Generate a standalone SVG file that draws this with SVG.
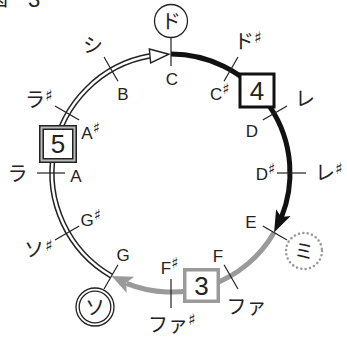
<svg xmlns="http://www.w3.org/2000/svg" width="347" height="337" viewBox="0 0 347 337">
  <style>
    text { font-family: "Liberation Sans", "Noto Sans CJK JP", "DejaVu Sans", sans-serif; fill: #222; }
    .note { font-size: 17px; }
    .kana { font-size: 20px; font-family: "Noto Sans CJK JP", "DejaVu Sans", sans-serif; }
    .sh { font-size: 15px; font-family: "DejaVu Sans", sans-serif; }
    .ksh { font-size: 16px; font-family: "DejaVu Sans", sans-serif; }
    .num { font-size: 26px; text-anchor: middle; }
    .mid { text-anchor: middle; }
    .tick { stroke: #222; stroke-width: 1.2; fill: none; }
  </style>

  <!-- title -->
  <g id="title">
    <text class="kana" x="-12" y="6" font-size="22">図</text>
    <text x="28" y="7" font-size="22">3</text>
  </g>

  <!-- arcs of the pitch circle (centre 171,173, r 119) -->
  <g id="connectors">
    <!-- G to C: double line -->
    <path d="M 111.5 276.06 A 119 119 0 0 1 150.34 55.81" fill="none" stroke="#222" stroke-width="5.5"/>
    <path d="M 111.5 276.06 A 119 119 0 0 1 150.34 55.81" fill="none" stroke="#fff" stroke-width="2.5"/>
    <polygon points="0,0 -19,-7 -19,7" transform="translate(168.9 54.2) rotate(-5.5)" fill="#fff" stroke="#222" stroke-width="1.4" stroke-linejoin="miter"/>

    <!-- C to E: thick black -->
    <path d="M 171 54 A 119 119 0 0 1 281.33 217.58" fill="none" stroke="#111" stroke-width="5"/>
    <polygon points="0,0 -22,-8 -17,0 -22,8" transform="translate(274.06 232.5) rotate(115)" fill="#111"/>

    <!-- E to G: thick grey -->
    <path d="M 274.06 232.5 A 119 119 0 0 1 126.42 283.33" fill="none" stroke="#9a9a9a" stroke-width="5"/>
    <polygon points="0,0 -21,-9 -16,0 -21,9" transform="translate(111.5 276.06) rotate(205)" fill="#9a9a9a"/>

    <!-- ticks -->
    <line class="tick" x1="171" y1="66" x2="171" y2="37.5"/>
    <line class="tick" x1="224" y1="81.2" x2="238" y2="57"/>
    <line class="tick" x1="262.8" y1="120" x2="287" y2="106"/>
    <line class="tick" x1="277" y1="173" x2="306" y2="173"/>
    <line class="tick" x1="262.8" y1="226" x2="287" y2="240"/>
    <line class="tick" x1="224" y1="264.8" x2="238" y2="289"/>
    <line class="tick" x1="171" y1="279" x2="171" y2="308"/>
    <line class="tick" x1="118" y1="264.8" x2="104" y2="289"/>
    <line class="tick" x1="79.2" y1="226" x2="55" y2="240"/>
    <line class="tick" x1="65" y1="173" x2="37" y2="173"/>
    <line class="tick" x1="79.2" y1="120" x2="55" y2="106"/>
    <line class="tick" x1="118" y1="81.2" x2="104" y2="57"/>
  </g>

  <!-- circled syllables -->
  <g id="node-do">
    <circle cx="171" cy="21" r="16.5" fill="#fff" stroke="#222" stroke-width="1.3"/>
    <text class="kana mid" x="171" y="28.6">ド</text>
  </g>
  <g id="node-mi">
    <circle cx="304" cy="251" r="18" fill="#fff" stroke="#999" stroke-width="2.6" stroke-dasharray="0 4.4" stroke-linecap="round"/>
    <text class="kana mid" x="304" y="258.6">ミ</text>
  </g>
  <g id="node-so">
    <circle cx="95" cy="307" r="19" fill="#fff" stroke="#222" stroke-width="1.3"/>
    <circle cx="95" cy="307" r="15.8" fill="none" stroke="#222" stroke-width="1.3"/>
    <text class="kana mid" x="95" y="314.6">ソ</text>
  </g>

  <!-- numbered boxes -->
  <g id="box-4">
    <rect x="240" y="74" width="34" height="33" fill="#fff" stroke="#111" stroke-width="3"/>
    <text class="num" x="257" y="100.3">4</text>
  </g>
  <g id="box-5">
    <rect x="41.5" y="127.5" width="33" height="33" fill="#fff" stroke="#222" stroke-width="5"/>
    <rect x="41.5" y="127.5" width="33" height="33" fill="none" stroke="#bbb" stroke-width="2"/>
    <text class="num" x="58" y="153.3">5</text>
  </g>
  <g id="box-3">
    <rect x="184.75" y="269.75" width="33.5" height="31.5" fill="#fff" stroke="#9a9a9a" stroke-width="3.5"/>
    <text class="num" x="201.5" y="294.8">3</text>
  </g>

  <!-- letter names inside the circle -->
  <g id="letters">
    <text class="note mid" x="172" y="85.2">C</text>
    <text class="note" x="209.9" y="100.2">C<tspan class="sh" dx="0" dy="-6">♯</tspan></text>
    <text class="note mid" x="252" y="137.2">D</text>
    <text class="note" x="255.8" y="180.2">D<tspan class="sh" dx="0" dy="-6">♯</tspan></text>
    <text class="note mid" x="251" y="228.2">E</text>
    <text class="note mid" x="218" y="262.2">F</text>
    <text class="note" x="160.8" y="274.2">F<tspan class="sh" dx="0" dy="-6">♯</tspan></text>
    <text class="note mid" x="123" y="261.2">G</text>
    <text class="note" x="80.4" y="226.2">G<tspan class="sh" dx="0" dy="-6">♯</tspan></text>
    <text class="note mid" x="76" y="182.2">A</text>
    <text class="note" x="81.3" y="139.2">A<tspan class="sh" dx="0" dy="-6">♯</tspan></text>
    <text class="note mid" x="123" y="99.7">B</text>
  </g>

  <!-- syllable names outside the circle -->
  <g id="syllables">
    <text class="kana" x="234" y="49">ド<tspan class="ksh" dx="0" dy="-6">♯</tspan></text>
    <text class="kana mid" x="305" y="105.6">レ</text>
    <text class="kana" x="315" y="179.6">レ<tspan class="ksh" dx="0" dy="-6">♯</tspan></text>
    <text class="kana" x="226.5" y="314">ファ</text>
    <text class="kana" x="148" y="332">ファ<tspan class="ksh" dx="0" dy="-7">♯</tspan></text>
    <text class="kana" x="24" y="256.6">ソ<tspan class="ksh" dx="1" dy="-6">♯</tspan></text>
    <text class="kana mid" x="17.5" y="180.6">ラ</text>
    <text class="kana" x="25" y="106.6">ラ<tspan class="ksh" dx="0" dy="-6">♯</tspan></text>
    <text class="kana mid" x="93" y="52.6">シ</text>
  </g>
</svg>
